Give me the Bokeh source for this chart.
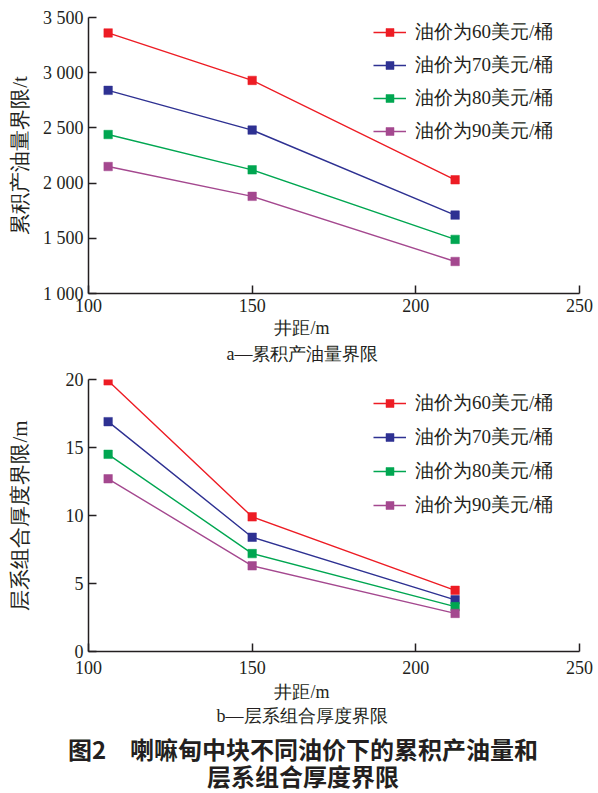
from bokeh.plotting import figure
from bokeh.layouts import column, row
from bokeh.models import Range1d, FixedTicker, Legend, LegendItem
from bokeh.core.properties import value
from bokeh.embed import file_html
from bokeh.resources import INLINE

# ---------------- data ----------------
well_spacing = [106, 150, 212]
series_names = ["油价为60美元/桶", "油价为70美元/桶", "油价为80美元/桶", "油价为90美元/桶"]
series_colors = ["#ed1c24", "#2e3192", "#00a651", "#a4488f"]

oil_60 = [3360, 2930, 2030]
oil_70 = [2840, 2480, 1710]
oil_80 = [2440, 2120, 1490]
oil_90 = [2150, 1880, 1290]

thick_60 = [19.9, 9.9, 4.5]
thick_70 = [16.9, 8.4, 3.8]
thick_80 = [14.5, 7.2, 3.3]
thick_90 = [12.7, 6.3, 2.8]

x_ticks = [100, 150, 200, 250]
y_ticks_a = [1000, 1500, 2000, 2500, 3000, 3500]
y_tick_labels_a = ["1 000", "1 500", "2 000", "2 500", "3 000", "3 500"]
y_ticks_b = [0, 5, 10, 15, 20]

x_label = "井距/m"
y_label_a = "累积产油量界限/t"
y_label_b = "层系组合厚度界限/m"
caption_a = "a—累积产油量界限"
caption_b = "b—层系组合厚度界限"
title_1 = "图2\u3000喇嘛甸中块不同油价下的累积产油量和"
title_2 = "层系组合厚度界限"

SERIF = "Liberation Serif"
BOLD_CJK = "Noto Sans CJK SC"
INK = "#231f20"
W = 598
LEFT, RIGHT = 88, 19


def make_panel(series, y_range, y_ticks, y_label, height, border_top, border_bottom,
               x_standoff, label_standoff, legend_loc, legend_spacing, y_overrides=None):
    p = figure(width=W, height=height, output_backend="svg", toolbar_location=None,
               x_range=Range1d(100, 250), y_range=Range1d(*y_range),
               min_border_left=LEFT, min_border_right=RIGHT,
               min_border_top=border_top, min_border_bottom=border_bottom)
    p.outline_line_color = None
    p.grid.visible = False
    p.background_fill_color = None
    p.border_fill_color = None
    for ax in (p.xaxis[0], p.yaxis[0]):
        ax.axis_line_color = INK
        ax.axis_line_width = 1.5
        ax.major_tick_line_color = INK
        ax.major_tick_line_width = 1.5
        ax.major_tick_in = 8
        ax.major_tick_out = 0
        ax.minor_tick_line_color = None
        ax.major_label_text_font = SERIF
        ax.major_label_text_font_size = "18px"
        ax.major_label_text_color = INK
    p.xaxis.ticker = FixedTicker(ticks=x_ticks)
    p.xaxis.major_label_standoff = x_standoff
    p.yaxis.ticker = FixedTicker(ticks=y_ticks)
    p.yaxis.major_label_standoff = 5
    if y_overrides:
        p.yaxis.major_label_overrides = dict(zip(y_ticks, y_overrides))
    p.yaxis.axis_label = y_label
    p.yaxis.axis_label_text_font = SERIF
    p.yaxis.axis_label_text_font_size = "21px"
    p.yaxis.axis_label_text_font_style = "normal"
    p.yaxis.axis_label_text_color = INK
    p.yaxis.axis_label_standoff = label_standoff

    items = []
    for name, color, ys in zip(series_names, series_colors, series):
        r1 = p.line(well_spacing, ys, line_color=color, line_width=1.4)
        r2 = p.scatter(well_spacing, ys, marker="square", size=8.5,
                       fill_color=color, line_color=color, line_width=0.5)
        items.append(LegendItem(label=name, renderers=[r1, r2]))
    legend = Legend(items=items, location=legend_loc, border_line_color=None,
                    background_fill_alpha=0, padding=0, margin=0, spacing=legend_spacing,
                    glyph_width=33, glyph_height=20, label_height=20,
                    label_standoff=9, label_text_font=SERIF,
                    label_text_font_size="19px", label_text_color=INK)
    p.add_layout(legend)
    return p


def text_strip(height, texts, xs, ys, sizes, fonts, styles, left, right):
    # frame spans page x from `left` to W-`right`, so data x equals page x
    t = figure(width=W, height=height, output_backend="svg", toolbar_location=None,
               x_range=Range1d(left, W - right), y_range=Range1d(height, 0),
               x_axis_location=None, y_axis_location=None,
               min_border_left=left, min_border_right=right,
               min_border_top=0, min_border_bottom=0)
    t.outline_line_color = None
    t.grid.visible = False
    t.background_fill_color = None
    t.border_fill_color = None
    for txt, x, y, s, f, st in zip(texts, xs, ys, sizes, fonts, styles):
        t.text([x], [y], text=[txt], text_align="center", text_baseline="middle",
               text_font=value(f), text_font_size=s, text_font_style=st,
               text_color=INK)
    return t


p1 = make_panel([oil_60, oil_70, oil_80, oil_90], (1000, 3500), y_ticks_a, y_label_a,
                319, 17, 26, 5, 8, (285, 149), 7, y_tick_labels_a)
t1 = text_strip(47, [x_label, caption_a], [301.5, 302], [8, 34.5],
                ["18px", "18px"], [SERIF, SERIF], ["normal", "normal"], LEFT, RIGHT)
p2 = make_panel([thick_60, thick_70, thick_80, thick_90], (0, 20), y_ticks_b, y_label_b,
                317, 13, 32, 9, 31, (285, 133), 8)
t2 = text_strip(44, [x_label, caption_b], [301.5, 301.5], [8, 32],
                ["18px", "18px"], [SERIF, SERIF], ["normal", "normal"], LEFT, RIGHT)
t3 = text_strip(66, [title_1, title_2], [302.5, 302.5], [21, 48],
                ["24px", "24px"], [BOLD_CJK, BOLD_CJK], ["bold", "bold"], 0, 0)

layout = column(p1, t1, p2, t2, row(t3, spacing=0), spacing=0)
open("out.html", "w").write(file_html(layout, INLINE))
